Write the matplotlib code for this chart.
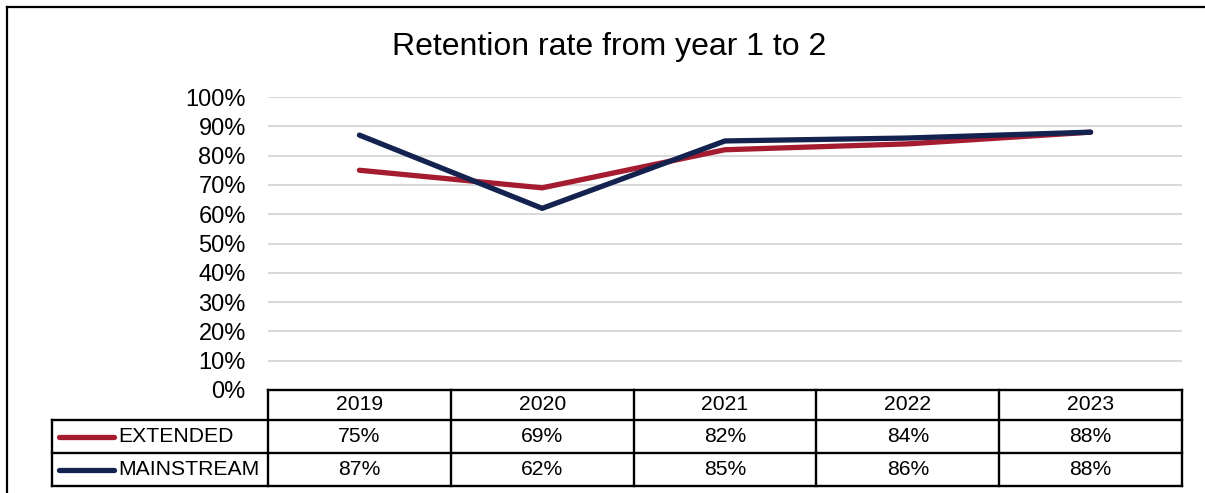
import numpy as np
import matplotlib.pyplot as plt
from matplotlib.transforms import blended_transform_factory

plt.rcParams['font.family'] = ['Liberation Sans', 'DejaVu Sans']

years = ['2019', '2020', '2021', '2022', '2023']
extended = [75, 69, 82, 84, 88]
mainstream = [87, 62, 85, 86, 88]
series_names = ['EXTENDED', 'MAINSTREAM']
series_colors = ['#A51C30', '#13224F']

W, H = 1205, 493
fig = plt.figure(figsize=(W / 100, H / 100), dpi=100)


def fy(py):
    # pixel row from the top -> figure fraction
    return 1 - py / H


def fx(px):
    return px / W


# plot area
x0, x1, ytop, ybot = 268, 1182, 97, 390
ax = fig.add_axes([fx(x0), fy(ybot), fx(x1 - x0), (ybot - ytop) / H])
x = np.arange(len(years))
ax.set_xlim(-0.5, len(years) - 0.5)
ax.set_ylim(0, 100)
ax.set_yticks(np.arange(0, 101, 10))
ax.set_yticklabels([f'{v}%' for v in range(0, 101, 10)], fontsize=17)
ax.set_xticks([])
ax.tick_params(axis='y', length=0, pad=16)
for s in ax.spines.values():
    s.set_visible(False)
ax.grid(axis='y', color='#D9D9D9', linewidth=1.5)
ax.set_axisbelow(True)

for vals, col in zip([extended, mainstream], series_colors):
    ax.plot(x, vals, color=col, linewidth=3.8, solid_capstyle='round',
            solid_joinstyle='miter')

# title
fig.text(fx(609), fy(47), 'Retention rate from year 1 to 2', fontsize=23,
         ha='center', va='center')

# data table under the axis
tr = blended_transform_factory(ax.transData, fig.transFigure)
rows = [390, 420, 453, 486]
lw = 1.7
fs = 15.2
edges = np.arange(len(years) + 1) - 0.5
for e in edges:
    ax.plot([e, e], [fy(rows[0]), fy(rows[-1])], color='black', lw=lw,
            transform=tr, clip_on=False)
ax.plot([edges[0], edges[-1]], [fy(rows[0])] * 2, color='black', lw=lw,
        transform=tr, clip_on=False)
for r in rows[1:]:
    fig.add_artist(plt.Line2D([fx(52), fx(x1)], [fy(r)] * 2, color='black',
                              lw=lw))
fig.add_artist(plt.Line2D([fx(52)] * 2, [fy(rows[1]), fy(rows[-1])],
                          color='black', lw=lw))

for i, yr in enumerate(years):
    ax.text(i, fy((rows[0] + rows[1]) / 2), yr, transform=tr, ha='center',
            va='center', fontsize=fs)

for j, (name, col, vals) in enumerate(zip(series_names, series_colors,
                                          [extended, mainstream])):
    yc = fy((rows[j + 1] + rows[j + 2]) / 2)
    fig.add_artist(plt.Line2D([fx(59), fx(114)], [yc, yc], color=col, lw=3.8,
                              solid_capstyle='round'))
    fig.text(fx(118), yc, name, ha='left', va='center', fontsize=fs)
    for i, v in enumerate(vals):
        ax.text(i, yc, f'{v}%', transform=tr, ha='center', va='center',
                fontsize=fs)

# chart border
fig.add_artist(plt.Line2D([fx(7), 1], [fy(7)] * 2, color='black', lw=1.6))
fig.add_artist(plt.Line2D([fx(7)] * 2, [fy(7), 0], color='black', lw=1.6))

fig.savefig('out.png', dpi=100)
